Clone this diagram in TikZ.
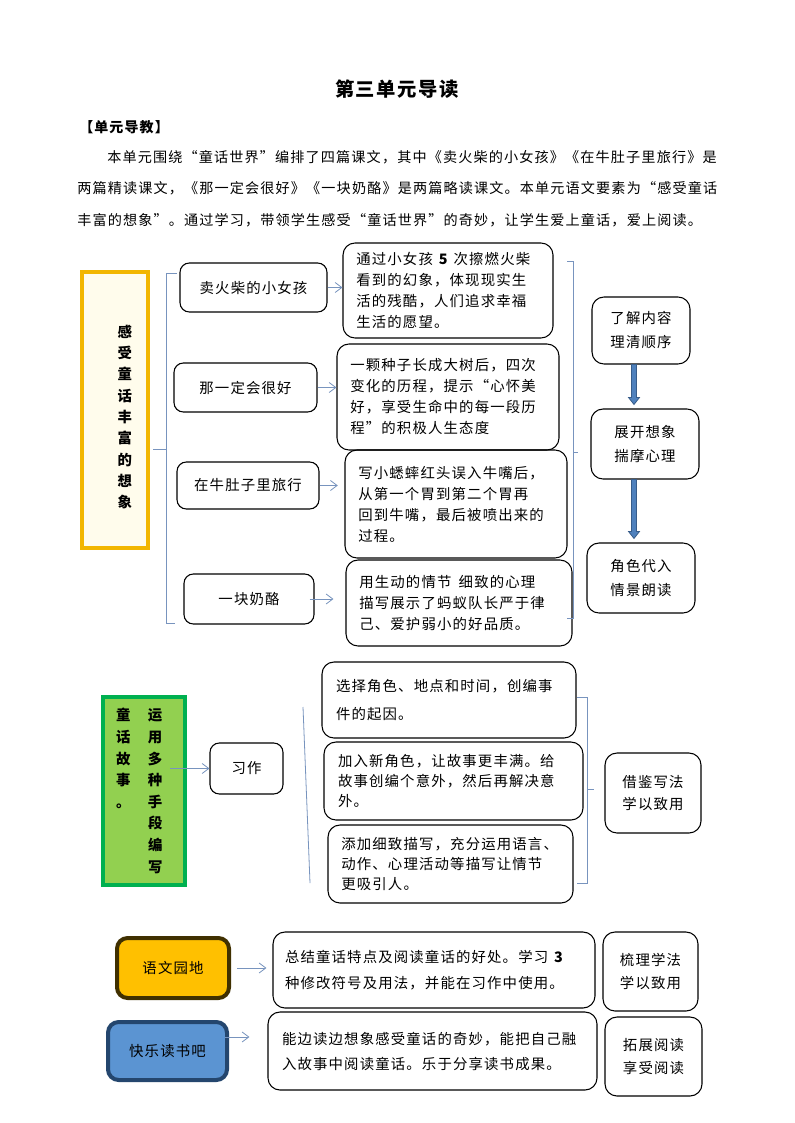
\documentclass[tikz,border=0pt]{standalone}
\usepackage{fontspec}
\setmainfont{Noto Sans CJK SC}[LetterSpace=8]
\usetikzlibrary{arrows.meta,calc}

\definecolor{linkblue}{RGB}{120,148,190}
\definecolor{themegold}{RGB}{242,182,0}
\definecolor{themecream}{RGB}{255,252,236}
\definecolor{themegreen}{RGB}{0,176,80}
\definecolor{themelime}{RGB}{146,208,80}
\definecolor{flowfill}{RGB}{79,129,189}
\definecolor{flowedge}{RGB}{56,93,138}
\definecolor{gardenfill}{RGB}{255,192,0}
\definecolor{gardenedge}{RGB}{64,48,0}
\definecolor{readfill}{RGB}{91,148,210}
\definecolor{readedge}{RGB}{36,70,110}

\newcommand\boxtext[1]{\fontsize{10.8}{#1}\selectfont}
\newcommand\twocol[2]{\makebox[24pt][l]{#1}#2}

\begin{document}
\begin{tikzpicture}
[x=0.75pt, y=-0.75pt, font=\boxtext{15pt}]
\tikzstyle{lesson}=[draw, rounded corners=7pt, line width=0.8pt, align=center]
\tikzstyle{detail}=[draw, rounded corners=9pt, line width=0.8pt, align=left, inner xsep=10pt]
\tikzstyle{method}=[draw, rounded corners=9pt, line width=0.8pt, align=center]
\tikzstyle{theme}=[line width=3pt, inner sep=0pt]
\tikzstyle{corner}=[line width=3pt, rounded corners=8pt, align=center]
\tikzstyle{intro}=[anchor=west, inner sep=0pt, font=\fontsize{10.6}{14}\selectfont]
\tikzstyle{link}=[linkblue, line width=0.6pt, -{Straight Barb[length=5pt,width=7.5pt]}]
\tikzstyle{brace}=[linkblue, line width=0.6pt]
\tikzstyle{flow}=[draw=flowedge, fill=flowfill, line width=0.6pt]
\tikzset{boxsize/.style 2 args={minimum width=#1*0.75pt, minimum height=#2*0.75pt}}

\useasboundingbox[fill=white] (0,0) rectangle (794,1123);

% heading and introduction
\node[font=\bfseries\fontsize{14.5}{18}\selectfont] (title) at (397,89) {第三单元导读};
\node[intro, font=\bfseries\fontsize{10.5}{14}\selectfont] (guide) at (79,127) {【单元导教】};
\node[intro] (intro1) at (107,157) {本单元围绕“童话世界”编排了四篇课文，其中《卖火柴的小女孩》《在牛肚子里旅行》是};
\node[intro] (intro2) at (77,188) {两篇精读课文，《那一定会很好》《一块奶酪》是两篇略读课文。本单元语文要素为“感受童话};
\node[intro] (intro3) at (77,220) {丰富的想象”。通过学习，带领学生感受“童话世界”的奇妙，让学生爱上童话，爱上阅读。};

% lessons
\node[theme, draw=themegold, fill=themecream, boxsize={66}{276}, text width=25.5pt, align=right, font=\bfseries\boxtext{16pt}] (imagine) at (115,410) {\mbox{}\\[4pt]感\\受\\童\\话\\丰\\富\\的\\想\\象};

\node[lesson, boxsize={147}{49}]	(L1)	at (253.5,287.5)	{卖火柴的小女孩};
\node[lesson, boxsize={143}{49}]	(L2)	at (245.5,387.5)	{那一定会很好};
\node[lesson, boxsize={142}{47}]	(L3)	at (248,485.5)		{在牛肚子里旅行};
\node[lesson, boxsize={130}{50}]	(L4)	at (249,599)		{一块奶酪};

\node[detail, boxsize={210}{95},  text width=137.5pt, font=\boxtext{15.75pt}]	(D1)	at (448,290.5)	{通过小女孩 \textbf{5} 次擦燃火柴\\看到的幻象，体现现实生\\活的残酷，人们追求幸福\\生活的愿望。};
\node[detail, boxsize={222}{106}, text width=146.5pt, font=\boxtext{15.75pt}]	(D2)	at (448,397)	{一颗种子长成大树后，四次\\变化的历程，提示“心怀美\\好，享受生命中的每一段历\\程”的积极人生态度};
\node[detail, boxsize={222}{108}, text width=146.5pt, font=\boxtext{15.75pt}]	(D3)	at (456,504)	{写小蟋蟀红头误入牛嘴后，\\从第一个胃到第二个胃再\\回到牛嘴，最后被喷出来的\\过程。};
\node[detail, boxsize={226}{86},  text width=149.5pt, font=\boxtext{15.75pt}]	(D4)	at (459,603)	{用生动的情节\enspace 细致的心理\\描写展示了蚂蚁队长严于律\\己、爱护弱小的好品质。};

\node[method, boxsize={98}{67},  font=\boxtext{18pt}]	(R1)	at (641,330.5)	{了解内容\\理清顺序};
\node[method, boxsize={108}{70}, font=\boxtext{18pt}]	(R2)	at (645,444)	{展开想象\\揣摩心理};
\node[method, boxsize={108}{70}, font=\boxtext{18pt}]	(R3)	at (641,578)	{角色代入\\情景朗读};

\draw[brace] (177,273) -- (166,273) -- (166,623) -- (175,623);
\draw[brace] (153,449) -- (166,449);
\draw[brace] (567,261) -- (573,261) -- (573,618) -- (567,618);
\draw[brace] (573,452) -- (578,452);

\draw[link] (L1.east) -- (L1 -| D1.west);
\draw[link] (L2.east) -- (L2 -| D2.west);
\draw[link, shorten >=5pt] (L3.east) -- (L3 -| D3.west);
\draw[link, shorten >=9pt] ($(L4.east)+(-5,0)$) -- (L4 -| D4.west);

\coordinate (f1a) at ($(R1.south)+(-7,0)$);
\coordinate (f1b) at ($(R2.north)+(-11,-4)$);
\coordinate (f2a) at ($(R2.south)+(-11,0)$);
\coordinate (f2b) at ($(R3.north)+(-7,-4)$);
\draw[flow] ($(f1a)+(-2.5,0)$) -- ($(f1b)+(-2.5,-7)$) -- ($(f1b)+(-5.5,-7)$) -- (f1b) -- ($(f1b)+(5.5,-7)$) -- ($(f1b)+(2.5,-7)$) -- ($(f1a)+(2.5,0)$) -- cycle;
\draw[flow] ($(f2a)+(-2.5,0)$) -- ($(f2b)+(-2.5,-7)$) -- ($(f2b)+(-5.5,-7)$) -- (f2b) -- ($(f2b)+(5.5,-7)$) -- ($(f2b)+(2.5,-7)$) -- ($(f2a)+(2.5,0)$) -- cycle;

% writing
\node[theme, draw=themegreen, fill=themelime, boxsize={82}{188}, text width=42pt, align=left, font=\bfseries\boxtext{16.2pt}] (write) at (144,791) {\twocol{童}{运}\\\twocol{话}{用}\\\twocol{故}{多}\\\twocol{事}{种}\\\twocol{。}{手}\\\twocol{}{段}\\\twocol{}{编}\\\twocol{}{写}};
\node[lesson, boxsize={73}{51}] (X) at (246.5,768.5) {习作};

\node[detail, boxsize={254}{76}, inner xsep=10.5pt, text width=169.5pt,  font=\boxtext{21pt}]	(B1)	at (449,700)	{选择角色、地点和时间，创编事\\件的起因。};
\node[detail, boxsize={259}{78}, inner xsep=10.5pt, text width=173.25pt, font=\boxtext{15pt}]	(B2)	at (453.5,781)	{加入新角色，让故事更丰满。给\\故事创编个意外，然后再解决意\\外。};
\node[detail, boxsize={245}{78}, text width=163.75pt, font=\boxtext{15pt}]	(B3)	at (450.5,864)	{添加细致描写，充分运用语言、\\动作、心理活动等描写让情节\\更吸引人。};
\node[method, boxsize={96}{80}, font=\boxtext{16.5pt}] (W) at (653,793) {借鉴写法\\学以致用};

\coordinate (w1) at ($(write.east)+(-17,0)$);
\draw[link] (w1 |- X.west) -- (X.west);
\draw[brace] (303,707) -- (310,883);
\draw[brace] (577,697) -- (587,697) -- (587,883) -- (577,883);
\draw[brace] (587,789) -- (594,789);

% garden and reading
\node[corner, draw=gardenedge, fill=gardenfill, boxsize={112}{60}] (Yw) at (173,968) {语文园地};
\node[corner, draw=readedge, fill=readfill, boxsize={119}{58}] (Kl) at (167.5,1051) {快乐读书吧};

\node[detail, boxsize={322}{76}, inner xsep=9pt, text width=223.5pt, font=\boxtext{19.5pt}]	(S1)	at (434,970)	{总结童话特点及阅读童话的好处。学习 \textbf{3}\\种修改符号及用法，并能在习作中使用。};
\node[detail, boxsize={329}{78}, inner xsep=10.5pt, text width=225.75pt, font=\boxtext{18.75pt}]	(S2)	at (432.5,1051)	{能边读边想象感受童话的奇妙，能把自己融\\入故事中阅读童话。乐于分享读书成果。};
\node[method, boxsize={95}{79}, font=\boxtext{17.25pt}] (T1) at (650.5,971.5) {梳理学法\\学以致用};
\node[method, boxsize={97}{79}, font=\boxtext{17.25pt}] (T2) at (653.5,1056.5) {拓展阅读\\享受阅读};

\draw[link, shorten <=4.5pt, shorten >=4.5pt] (Yw.east) -- (Yw -| S1.west);
\coordinate (k1) at ($(Kl.east)+(-4,-14)$);
\draw[link, shorten >=13.5pt] (k1) -- (k1 -| S2.west);
\end{tikzpicture}
\end{document}
